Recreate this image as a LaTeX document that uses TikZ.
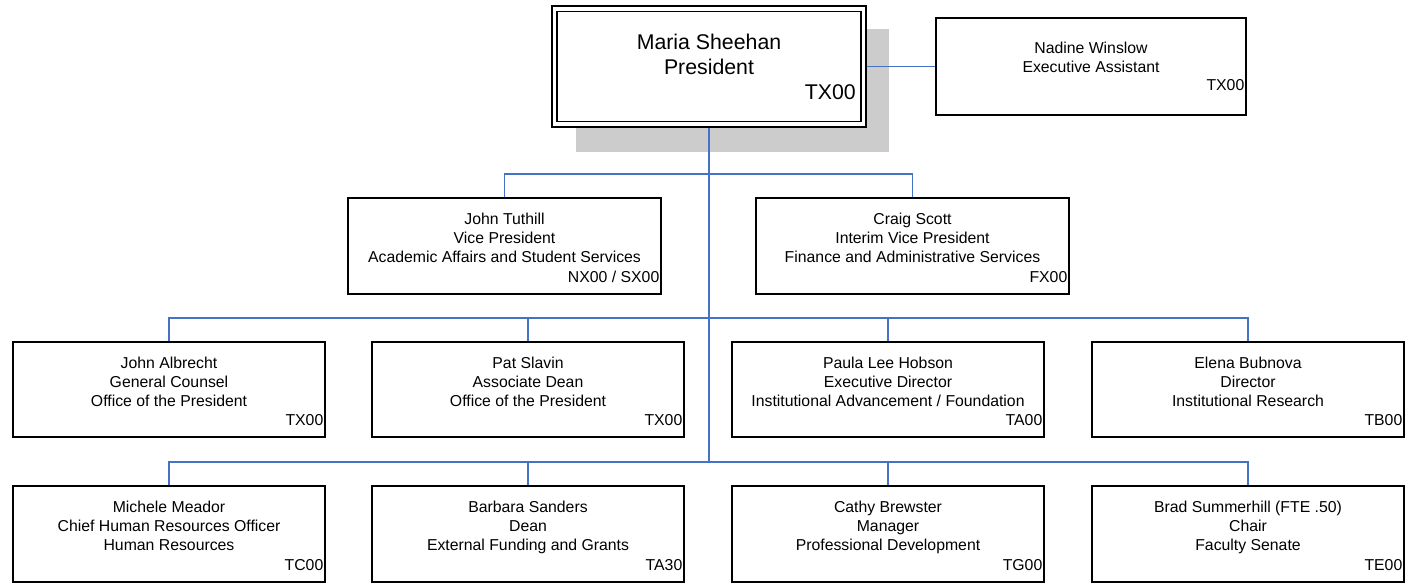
\documentclass[tikz,border=0pt]{standalone}
\usepackage{fontspec}
\setmainfont{Liberation Sans}
\usetikzlibrary{backgrounds}
\definecolor{connblue}{HTML}{4472C4}
\definecolor{shadowgray}{HTML}{CCCCCC}
\tikzset{
  obox/.style={draw=black, line width=1.3pt, fill=white, inner sep=0pt, rectangle},
  otext/.style={inner sep=0pt, align=center, font=\fontsize{15.8}{19}\selectfont},
  ocode/.style={inner sep=0pt, font=\fontsize{15.8}{19}\selectfont},
  conn/.style={draw=connblue, line width=1.5pt},
  trunk/.style={draw=connblue, line width=2.4pt},
}
\newcommand\orgbox[7]{%
  \node[obox, minimum width={#4-#2}, minimum height={#5-#3}] (#1) at ({(#2+#4)/2},{(#3+#5)/2}) {};
  \node[otext, anchor=north] (#1-t) at ({(#2+#4)/2},{#3+14.5}) {#6};
  \node[ocode, anchor=base east] (#1-c) at ({#4-1.5},{#5-12}) {#7};
}
\begin{document}
\begin{tikzpicture}[x=1pt, y=-1pt]
\useasboundingbox (0,0) rectangle (1406,583);
% president
\node[draw=black, line width=2.2pt, fill=white, inner sep=0pt, minimum width=314, minimum height=121] (pres) at (709,66.5) {};
\node[draw=black, line width=1.6pt, inner sep=0pt, minimum width=304, minimum height=110] (presin) at (709,66.5) {};
\node[inner sep=0pt, align=center, font=\fontsize{21.3}{25}\selectfont, anchor=north] (pres-t) at (709,33.5) {Maria Sheehan\\President};
\node[inner sep=0pt, font=\fontsize{21.3}{25}\selectfont, anchor=base east] (pres-c) at (856,99.5) {TX00};
% assistant
\node[obox, minimum width=310, minimum height=97] (nadine) at (1091,66.5) {};
\node[otext, anchor=north] (nadine-t) at (1091,41.5) {Nadine Winslow\\Executive Assistant};
\node[ocode, anchor=base east] (nadine-c) at (1244.5,90.5) {TX00};
% vice presidents
\orgbox{tuthill}{348}{198}{661}{294}{John Tuthill\\Vice President\\Academic Affairs and Student Services}{NX00 / SX00}
\orgbox{scott}{756}{198}{1069}{294}{Craig Scott\\Interim Vice President\\Finance and Administrative Services}{FX00}
% row 3
\orgbox{albrecht}{13}{342}{325}{437}{John Albrecht\\General Counsel\\Office of the President}{TX00}
\orgbox{slavin}{372}{342}{684}{437}{Pat Slavin\\Associate Dean\\Office of the President}{TX00}
\orgbox{hobson}{732}{342}{1044}{437}{Paula Lee Hobson\\Executive Director\\Institutional Advancement / Foundation}{TA00}
\orgbox{bubnova}{1092}{342}{1404}{437}{Elena Bubnova\\Director\\Institutional Research}{TB00}
% row 4
\orgbox{meador}{13}{486}{325}{582}{Michele Meador\\Chief Human Resources Officer\\Human Resources}{TC00}
\orgbox{sanders}{372}{486}{684}{582}{Barbara Sanders\\Dean\\External Funding and Grants}{TA30}
\orgbox{brewster}{732}{486}{1044}{582}{Cathy Brewster\\Manager\\Professional Development}{TG00}
\orgbox{summerhill}{1092}{486}{1404}{582}{Brad Summerhill (FTE .50)\\Chair\\Faculty Senate}{TE00}
\coordinate (vpbus) at (709,174);
\coordinate (r3bus) at (709,318);
\coordinate (r4bus) at (709,462);
\begin{pgfonlayer}{background}
  \fill[shadowgray] (576,29) rectangle (889,152);
  \draw[conn] (pres.east) -- (nadine.west);
  \draw[trunk] (pres.south) -- (r4bus);
  \draw[conn] (tuthill.north) |- (vpbus) -| (scott.north);
  \draw[conn] (albrecht.north) |- (r3bus) -| (bubnova.north);
  \draw[conn] (slavin.north) -- (slavin.north |- r3bus);
  \draw[conn] (hobson.north) -- (hobson.north |- r3bus);
  \draw[conn] (meador.north) |- (r4bus) -| (summerhill.north);
  \draw[conn] (sanders.north) -- (sanders.north |- r4bus);
  \draw[conn] (brewster.north) -- (brewster.north |- r4bus);
\end{pgfonlayer}
\end{tikzpicture}
\end{document}
